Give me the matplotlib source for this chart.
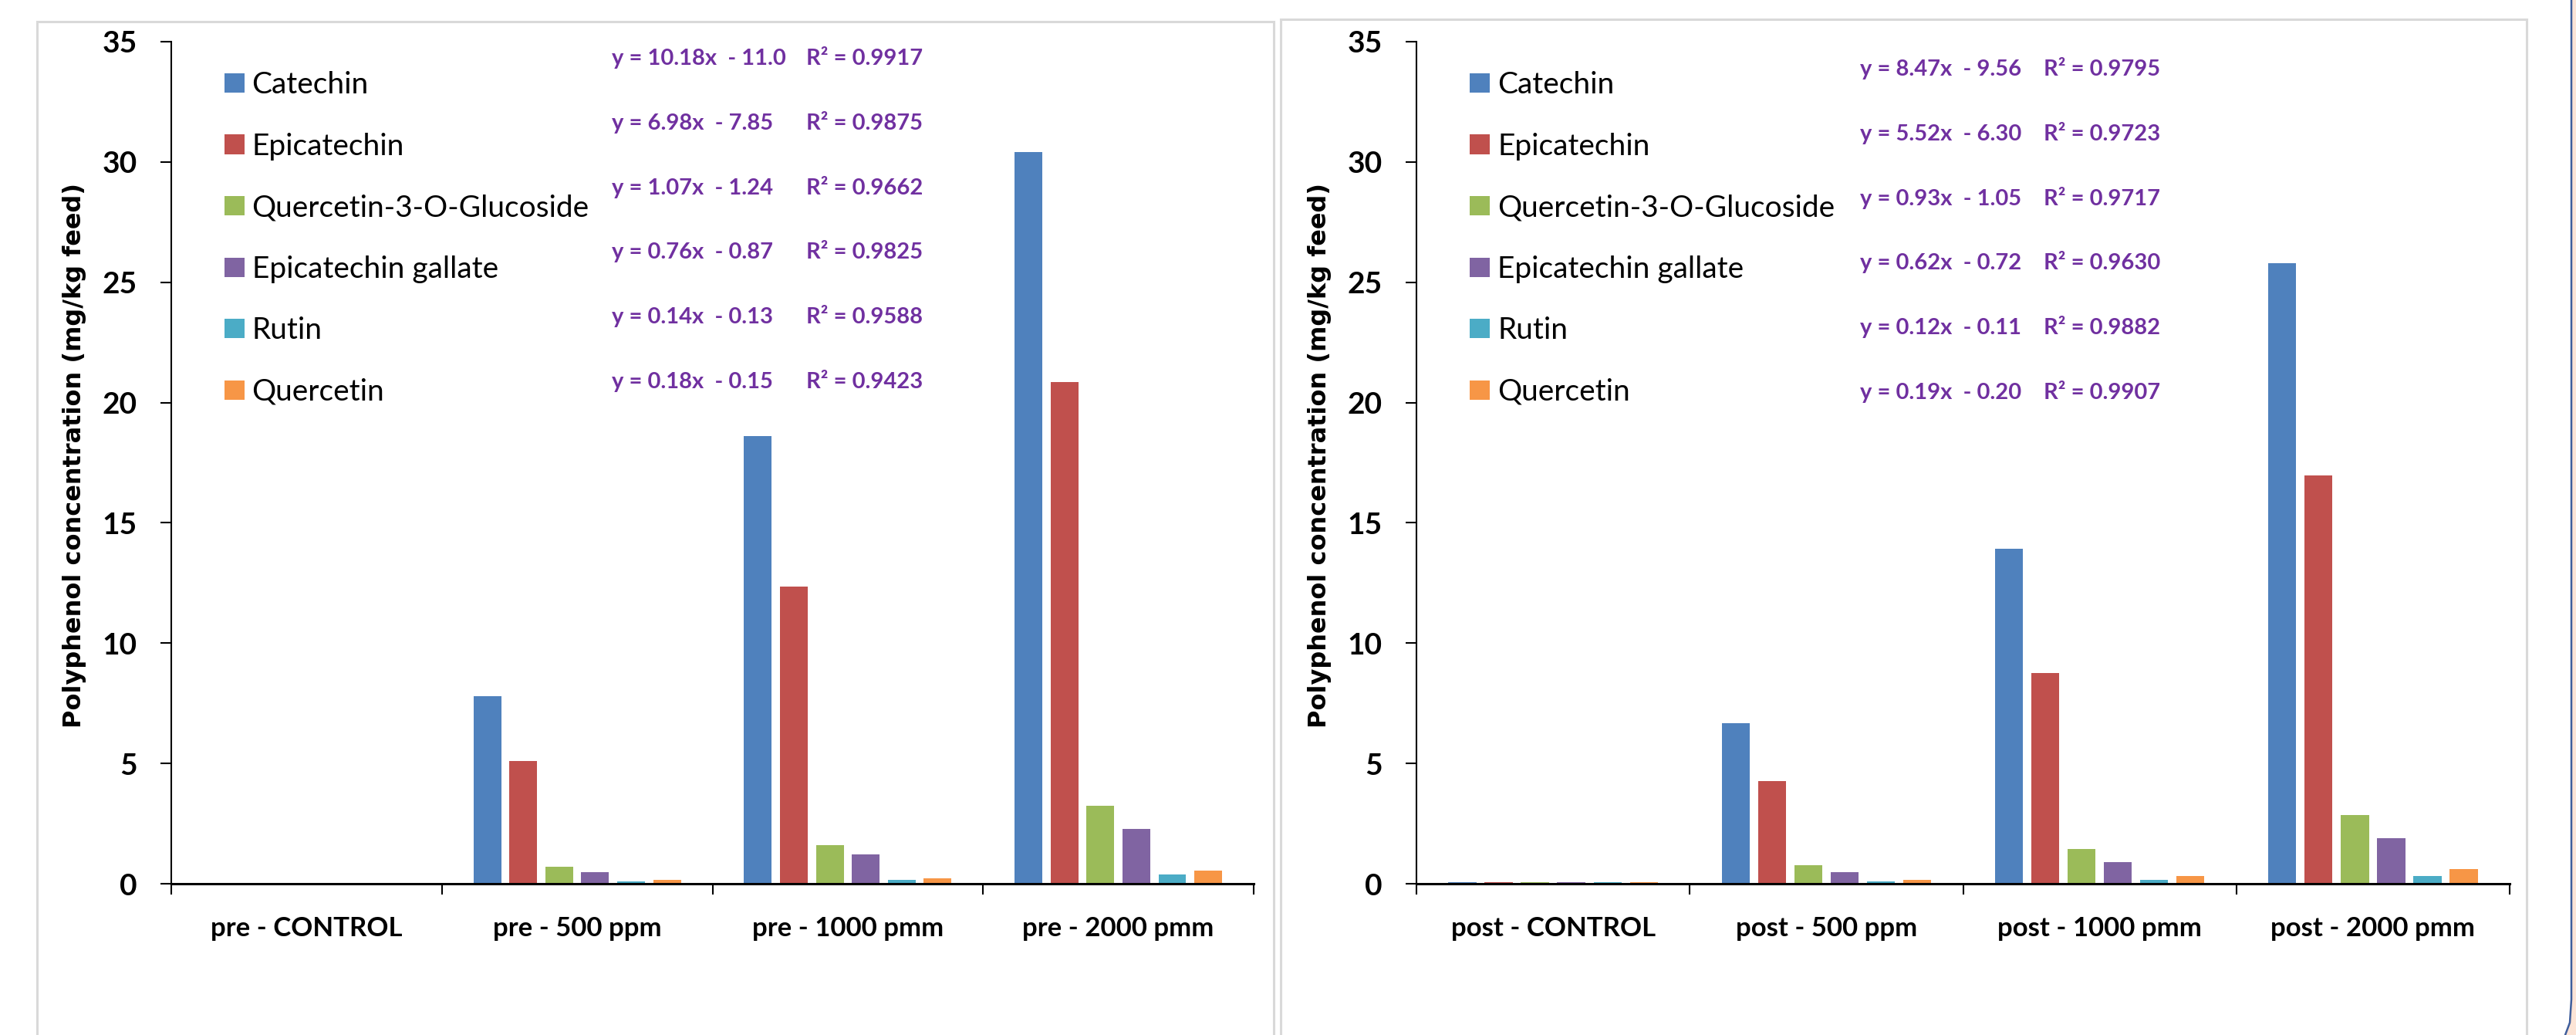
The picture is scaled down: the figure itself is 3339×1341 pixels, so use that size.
import numpy as np
from matplotlib import pyplot as plt
from matplotlib.patches import Rectangle, Polygon
from matplotlib.lines import Line2D

# ---- data ----
compounds = ['Catechin', 'Epicatechin', 'Quercetin-3-O-Glucoside',
             'Epicatechin gallate', 'Rutin', 'Quercetin']

groups_pre = ['pre - CONTROL', 'pre - 500 ppm', 'pre - 1000 pmm', 'pre - 2000 pmm']
groups_post = ['post - CONTROL', 'post - 500 ppm', 'post - 1000 pmm', 'post - 2000 pmm']

catechin_pre = [0.02, 7.80, 18.60, 30.40]
epicatechin_pre = [0.02, 5.10, 12.35, 20.85]
q3g_pre = [0.02, 0.72, 1.60, 3.25]
ecg_pre = [0.02, 0.48, 1.22, 2.28]
rutin_pre = [0.02, 0.09, 0.17, 0.40]
quercetin_pre = [0.02, 0.17, 0.24, 0.54]

catechin_post = [0.07, 6.66, 13.92, 25.80]
epicatechin_post = [0.07, 4.27, 8.75, 16.97]
q3g_post = [0.07, 0.76, 1.44, 2.86]
ecg_post = [0.07, 0.47, 0.91, 1.89]
rutin_post = [0.07, 0.09, 0.17, 0.31]
quercetin_post = [0.07, 0.17, 0.31, 0.61]

eq_pre = ['y = 10.18x  - 11.0', 'y = 6.98x  - 7.85', 'y = 1.07x  - 1.24',
          'y = 0.76x  - 0.87', 'y = 0.14x  - 0.13', 'y = 0.18x  - 0.15']
r2_pre = ['0.9917', '0.9875', '0.9662', '0.9825', '0.9588', '0.9423']
eq_post = ['y = 8.47x  - 9.56', 'y = 5.52x  - 6.30', 'y = 0.93x  - 1.05',
           'y = 0.62x  - 0.72', 'y = 0.12x  - 0.11', 'y = 0.19x  - 0.20']
r2_post = ['0.9795', '0.9723', '0.9717', '0.9630', '0.9882', '0.9907']

colors = ['#4F81BD', '#C0504D', '#9BBB59', '#8064A2', '#4BACC6', '#F79646']
purple = '#7030A0'

W, H = 3339, 1341
fig = plt.figure(figsize=(W / 100, H / 100), dpi=100)

def fx(px):
    return px / W

def fy(py):
    return 1 - py / H

# panel frames (light gray, running off the bottom)
fig.patches.append(Rectangle((fx(48), fy(1400)), fx(1651) - fx(48), fy(28) - fy(1400),
                             transform=fig.transFigure, fill=False,
                             edgecolor='#D9D9D9', linewidth=2.2))
fig.patches.append(Rectangle((fx(1660), fy(1400)), fx(3275) - fx(1660), fy(25) - fy(1400),
                             transform=fig.transFigure, fill=False,
                             edgecolor='#D9D9D9', linewidth=2.2))

# blue edge of a shape at the far right
edge_x = [fx(3333), fx(3333), fx(3331), fx(3325)]
edge_y = [fy(0), fy(1295), fy(1325), fy(1341)]
fig.patches.append(Polygon(list(zip(edge_x, edge_y)) + [(1, 0), (1, 1)],
                           closed=True, transform=fig.transFigure,
                           facecolor='#FCE4D6', edgecolor='none'))
fig.lines.append(Line2D(edge_x, edge_y, transform=fig.transFigure,
                        color='#3F5E9C', linewidth=1.8))

panels = [
    dict(x0=222, x1=1625, groups=groups_pre,
         values=[catechin_pre, epicatechin_pre, q3g_pre, ecg_pre, rutin_pre, quercetin_pre],
         eqs=eq_pre, r2s=r2_pre, eq_x=793, r2_x=1045, eq_y0=76, ylab_x=97),
    dict(x0=1836, x1=3253, groups=groups_post,
         values=[catechin_post, epicatechin_post, q3g_post, ecg_post, rutin_post, quercetin_post],
         eqs=eq_post, r2s=r2_post, eq_x=2411, r2_x=2649, eq_y0=90, ylab_x=1710),
]

y_top, y_bot = 54, 1145
step = 0.1328
bw = 0.1026

for p in panels:
    ax = fig.add_axes([fx(p['x0']), fy(y_bot), fx(p['x1']) - fx(p['x0']), fy(y_top) - fy(y_bot)])
    x = np.arange(len(p['groups']))
    for k, vals in enumerate(p['values']):
        ax.bar(x + (k - 2.5) * step, vals, width=bw, color=colors[k],
               label=compounds[k], zorder=2)
    ax.set_xlim(-0.5, 3.5)
    ax.set_ylim(0, 35)
    ax.set_yticks(np.arange(0, 36, 5))
    ax.set_xticks(np.arange(-0.5, 4, 1))
    ax.set_xticklabels([])
    ax.set_xticks(x, minor=True)
    ax.set_xticklabels(p['groups'], minor=True, fontfamily='Lato',
                       fontweight='bold', fontsize=25)
    ax.tick_params(axis='x', which='major', length=10, width=1.5, direction='out')
    ax.tick_params(axis='x', which='minor', length=0, pad=30)
    ax.tick_params(axis='y', length=10, width=1.5, pad=22)
    for lab in ax.get_yticklabels():
        lab.set_fontfamily('Lato')
        lab.set_fontweight('bold')
        lab.set_fontsize(28)
    for s in ['top', 'right']:
        ax.spines[s].set_visible(False)
    ax.spines['bottom'].set_linewidth(2.2)
    ax.spines['left'].set_linewidth(1.5)

    leg = ax.legend(loc='upper left', bbox_to_anchor=(0.049, 0.965), frameon=False,
                    prop={'family': 'Lato', 'size': 28}, borderpad=0, borderaxespad=0,
                    labelspacing=1.12, handlelength=0.67, handleheight=0.62,
                    handletextpad=0.25)

    for i in range(6):
        ty = p['eq_y0'] + i * 83.8
        fig.text(fx(p['eq_x']), fy(ty), p['eqs'][i], color=purple, fontfamily='Lato',
                 fontweight='bold', fontsize=21, va='center', ha='left')
        fig.text(fx(p['r2_x']), fy(ty), 'R² = ' + p['r2s'][i], color=purple,
                 fontfamily='Lato', fontweight='bold', fontsize=21, va='center', ha='left')

    fig.text(fx(p['ylab_x']), fy(590), 'Polyphenol concentration (mg/kg feed)',
             rotation=90, ha='center', va='center', fontfamily='DejaVu Sans',
             fontweight='bold', fontsize=23)

plt.savefig('out.png', dpi=100)
